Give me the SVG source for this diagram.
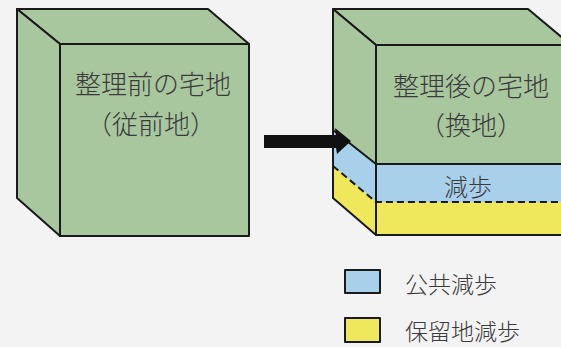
<svg xmlns="http://www.w3.org/2000/svg" width="561" height="347" viewBox="0 0 561 347">
  <style>
    .edge { stroke: #1a1a1a; stroke-width: 2; stroke-linejoin: round; }
    .green { fill: #a9c79f; }
    .blue { fill: #a9d0ea; }
    .yellow { fill: #efe85c; }
    .dash { stroke: #1a1a1a; stroke-width: 2; stroke-dasharray: 7 4; fill: none; }
    .line { stroke: #1a1a1a; stroke-width: 2; fill: none; }
    .label { font-family: "Noto Sans CJK JP", "Noto Sans", sans-serif; font-weight: 300; fill: #3a3a3a; text-anchor: middle; }
    .legend-text { font-family: "Noto Sans CJK JP", "Noto Sans", sans-serif; font-weight: 300; fill: #3a3a3a; font-size: 23px; }
  </style>

  <rect x="0" y="0" width="561" height="347" fill="#f3f3f3"/>

  <!-- Lot before readjustment -->
  <g id="cube-before">
    <polygon class="green edge" points="17,9 208,9 249,44 60,44"/>
    <polygon class="green edge" points="17,9 60,44 60,236 17,198"/>
    <rect class="green edge" x="60" y="44" width="189" height="192"/>
    <text class="label" x="153" y="94" font-size="26">整理前の宅地</text>
    <text class="label" x="151" y="134" font-size="26">（従前地）</text>
  </g>

  <!-- Lot after readjustment with reduction layers -->
  <g id="cube-after">
    <polygon class="green edge" points="333,9 528,9 571,45 376,45"/>
    <polygon class="green" points="333,9 376,45 376,164 333,130"/>
    <polygon class="blue" points="333,130 376,164 376,202 333,166"/>
    <polygon class="yellow" points="333,166 376,202 376,235 333,198"/>
    <rect class="green" x="376" y="45" width="200" height="119"/>
    <rect class="blue" x="376" y="164" width="200" height="38"/>
    <rect class="yellow" x="376" y="202" width="200" height="33"/>
    <polygon class="edge" fill="none" points="333,9 376,45 376,235 333,198"/>
    <rect class="edge" fill="none" x="376" y="45" width="200" height="190"/>
    <polyline class="line" points="333,130 376,164 576,164"/>
    <polyline class="dash" points="333,166 376,202 576,202"/>
    <text class="label" x="471" y="96" font-size="26">整理後の宅地</text>
    <text class="label" x="471" y="135" font-size="26">（換地）</text>
    <text class="label" x="468" y="196" font-size="24">減歩</text>
  </g>

  <g id="connectors">
    <polygon fill="#111" points="264,135 336,135 335,128 351,141 337,154 336,148 264,148"/>
  </g>

  <g id="legend">
    <g id="legend-public">
      <rect class="blue edge" x="345" y="270" width="35" height="23" stroke-width="1.5"/>
      <text class="legend-text" x="405" y="293">公共減歩</text>
    </g>
    <g id="legend-reserve">
      <rect class="yellow edge" x="345" y="318" width="35" height="24" stroke-width="1.5"/>
      <text class="legend-text" x="405" y="340">保留地減歩</text>
    </g>
  </g>
</svg>
